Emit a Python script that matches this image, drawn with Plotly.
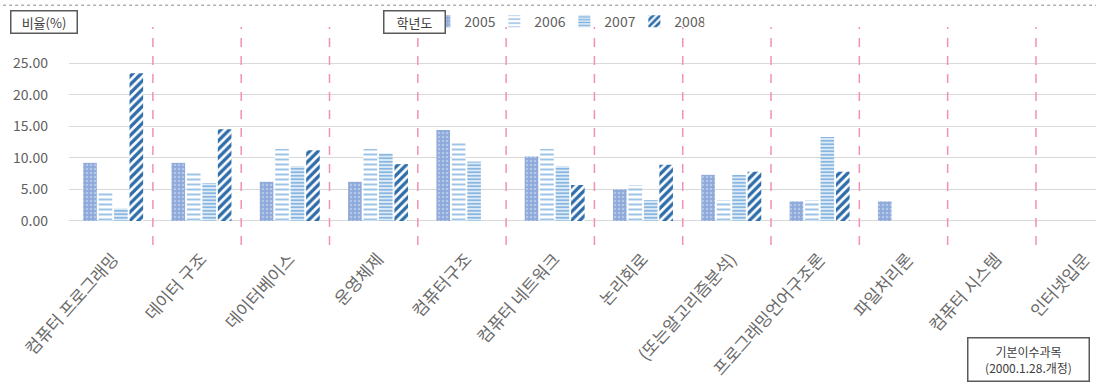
import plotly.graph_objects as go

categories = ["컴퓨터 프로그래밍", "데이터 구조", "데이터베이스", "운영체제", "컴퓨터구조",
              "컴퓨터 네트워크", "논리회로", "(또는알고리즘분석)", "프로그래밍언어구조론",
              "파일처리론", "컴퓨터 시스템", "인터넷입문"]
years = ["2005", "2006", "2007", "2008"]
v2005 = [9.2, 9.2, 6.2, 6.2, 14.4, 10.2, 5.0, 7.3, 3.1, 3.1, None, None]
v2006 = [4.6, 7.6, 11.4, 11.4, 12.5, 11.4, 5.7, 3.3, 3.3, None, None, None]
v2007 = [2.0, 6.0, 8.7, 10.7, 9.4, 8.7, 3.3, 7.3, 13.3, None, None, None]
v2008 = [23.4, 14.5, 11.2, 9.0, None, 5.7, 8.9, 7.8, 7.8, None, None, None]
yticks = [0, 5, 10, 15, 20, 25]
ytick_text = ["0.00", "5.00", "10.00", "15.00", "20.00", "25.00"]

FONT = "Noto Sans CJK KR"
GRAY = "#5f5f5f"
x_idx = list(range(len(categories)))

styles = [
    dict(color="#8EA9DB", pattern=dict(shape=".", fgcolor="#B4C7E7", size=4, solidity=0.3,
                                       fillmode="overlay", fgopacity=1)),
    dict(color="white", pattern=dict(shape="-", fgcolor="#9DC3E6", size=5, solidity=0.4,
                                     fillmode="overlay", fgopacity=1)),
    dict(color="#DEEBF7", pattern=dict(shape="-", fgcolor="#7FB0DE", size=3.5, solidity=0.45,
                                       fillmode="overlay", fgopacity=1)),
    dict(color="white", pattern=dict(shape="/", fgcolor="#2E6DAA", size=6, solidity=0.55,
                                     fillmode="overlay", fgopacity=1)),
]

fig = go.Figure()
for name, vals, st in zip(years, [v2005, v2006, v2007, v2008], styles):
    fig.add_trace(go.Bar(
        x=x_idx, y=vals, name=name,
        marker=dict(color=st["color"], pattern=st["pattern"], line=dict(width=0)),
    ))

shapes = []
for i in range(len(categories) - 1):
    shapes.append(dict(type="line", xref="x", yref="y", x0=i + 0.45, x1=i + 0.45,
                       y0=-3.8, y1=30.7, line=dict(color="#F291B5", width=1.5, dash="dash")))
shapes.append(dict(type="line", xref="paper", yref="paper", x0=-0.07, x1=1.0,
                   y0=1.1, y1=1.1, line=dict(color="#888888", width=1, dash="dot")))

fig.update_layout(
    width=1096, height=383,
    margin=dict(l=69, r=0, t=27, b=138, autoexpand=False),
    paper_bgcolor="white", plot_bgcolor="white",
    font=dict(family=FONT, color=GRAY, size=12),
    barmode="group", bargap=0.3, bargroupgap=0.12,
    showlegend=True,
    legend=dict(orientation="h", x=0.346, xanchor="left", y=1.025, yanchor="middle",
                font=dict(size=14, color=GRAY), itemwidth=30, entrywidth=25,
                bgcolor="rgba(0,0,0,0)", traceorder="normal"),
    shapes=shapes,
    xaxis=dict(range=[-0.5, 11.13], tickmode="array", tickvals=x_idx, ticktext=categories,
               tickangle=-48, showgrid=False, showline=False, zeroline=False, automargin=False,
               tickfont=dict(size=17, color="#6a6a6a")),
    yaxis=dict(range=[-3.8, 30.7], tickmode="array", tickvals=yticks, ticktext=ytick_text,
               showgrid=True, gridcolor="#D9D9D9", gridwidth=1, zeroline=False, automargin=False,
               showline=False, ticklabelstandoff=20, tickfont=dict(size=14, color=GRAY)),
    annotations=[
        dict(text="비율(%)", xref="paper", yref="paper", x=-0.024, y=1.025, xanchor="center",
             yanchor="middle", showarrow=False, font=dict(size=13, color="#404040"),
             width=63, height=19, borderpad=1,
             bordercolor="#595959", borderwidth=1.5, bgcolor="white"),
        dict(text="학년도", xref="paper", yref="paper", x=0.336, y=1.025, xanchor="center",
             yanchor="middle", showarrow=False, font=dict(size=13, color="#404040"),
             width=58, height=19, borderpad=1,
             bordercolor="#595959", borderwidth=1.5, bgcolor="white"),
        dict(text="기본이수과목<br>(2000.1.28.개정)", xref="paper", yref="paper",
             x=0.934, y=-0.523, xanchor="center", yanchor="middle", showarrow=False,
             font=dict(size=12, color="#404040"), width=118, height=40, borderpad=1,
             bordercolor="#595959", borderwidth=1.5, bgcolor="white"),
    ],
)

fig.write_html("out.html")
